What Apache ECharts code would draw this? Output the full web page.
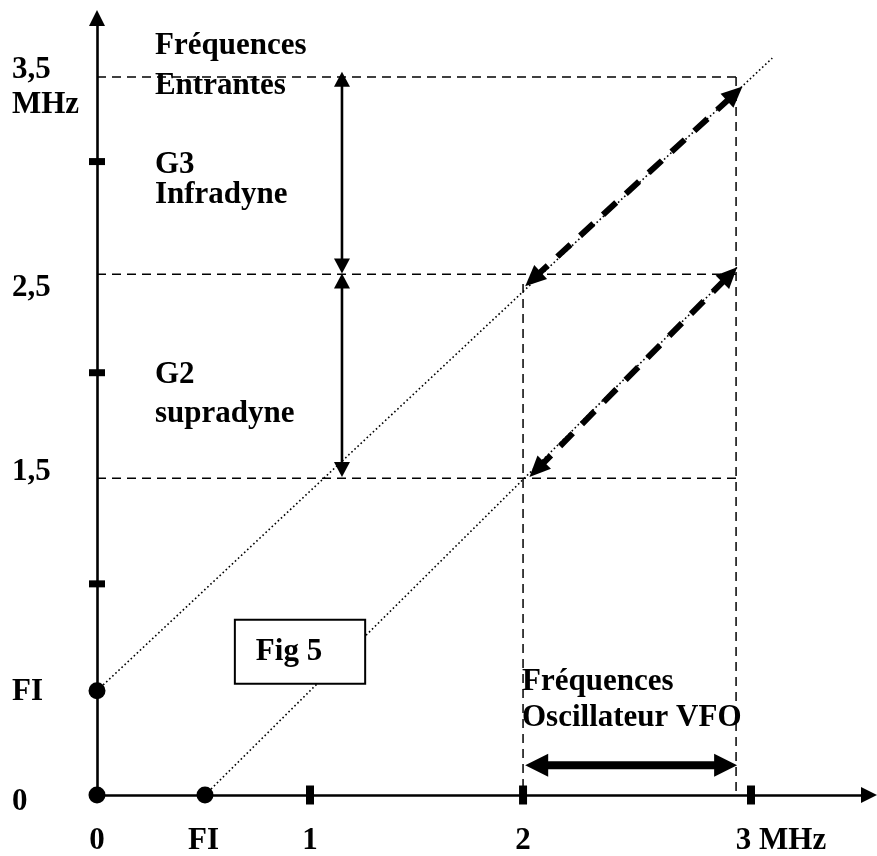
<!DOCTYPE html>
<html><head><meta charset="utf-8">
<script src="https://cdn.jsdelivr.net/npm/echarts@6/dist/echarts.min.js"></script>
<style>html,body{margin:0;padding:0;background:#fff}#c{width:877px;height:856px}</style>
</head><body><div id="c"></div>
<script>
// ---- data (axis units, MHz) ----
const xLabelValues = [0, 0.5, 1, 2, 3.07];
const xLabelTexts = ['0', 'FI', '1', '2', '3 MHz'];
const yLabelValues = [0, 0.49, 1.53, 2.40, 3.35];
const yLabelTexts = ['0', 'FI', '1,5', '2,5', '3,5\nMHz'];
const xTickMarks = [1, 2, 3.07];
const yTickMarks = [1, 2, 3];
const axisDots = [[0, 0], [0, 0.494], [0.507, 0]];
const upperDiagonal = [[0, 0.494], [3.17, 3.49]];
const lowerDiagonal = [[0.507, 0], [3.005, 2.5]];
const levelSegments = [
  [[0, 3.40], [3.0, 3.40]],
  [[0, 2.466], [3.0, 2.466]],
  [[0, 1.50], [3.0, 1.50]],
  [[2.0, 2.42], [2.0, 0]],
  [[3.0, 3.40], [3.0, 0]]
];
const bandArrows = [[1.15, 3.426, 1.15, 2.47], [1.15, 2.47, 1.15, 1.506]];
const mixArrows = [[2.01, 2.41, 3.03, 3.355], [2.03, 1.506, 3.005, 2.499]];
const vfoArrow = [[2.01, 0.141, 3.005, 0.141]];
const noteTexts = ['Fréquences\nEntrantes', 'G3\nInfradyne', 'G2\nsupradyne', 'Fréquences\nOscillateur VFO'];
const notePositions = [[0.272, 3.452], [0.272, 2.915], [0.272, 1.896], [1.995, 0.449]];
const figText = 'Fig 5';
const figPosition = [0.953, 0.678];

// ---- styles ----
const FONT = 'Liberation Serif';
const noteLineHeights = [40, 30, 39, 36];
const txt = { fontFamily: FONT, fontWeight: 'bold', fontSize: 31, color: '#000', textBorderWidth: 0, opacity: 1 };

function arrowRenderer(st) {
  return function (params, api) {
    const p1 = api.coord([api.value(0), api.value(1)]);
    const p2 = api.coord([api.value(2), api.value(3)]);
    const dx = p2[0] - p1[0], dy = p2[1] - p1[1];
    const len = Math.hypot(dx, dy);
    const ux = dx / len, uy = dy / len, nx = -uy, ny = ux;
    const a = st.head * 0.6;
    function head(tip, dir) {
      const bx = tip[0] - dir * ux * st.head, by = tip[1] - dir * uy * st.head;
      return { type: 'polygon', shape: { points: [tip, [bx + nx * st.width / 2, by + ny * st.width / 2], [bx - nx * st.width / 2, by - ny * st.width / 2]] }, style: { fill: '#000' } };
    }
    return { type: 'group', children: [
      { type: 'line', shape: { x1: p1[0] + ux * a, y1: p1[1] + uy * a, x2: p2[0] - ux * a, y2: p2[1] - uy * a },
        style: { stroke: '#000', lineWidth: st.lw, lineDash: st.dash || null, fill: null } },
      head(p2, 1), head(p1, -1)
    ] };
  };
}
function arrowSeries(data, st) {
  return { type: 'custom', data: data, encode: { x: [0, 2], y: [1, 3] }, renderItem: arrowRenderer(st), clip: false, silent: true, z: 5 };
}
function segSeries(data, lineStyle) {
  return { type: 'line', data: data, showSymbol: false, symbol: 'none', lineStyle: lineStyle, silent: true, z: 2, animation: false };
}
function markSeries(data, symbol, size) {
  return { type: 'scatter', data: data, symbol: symbol, symbolSize: size, itemStyle: { color: '#000', opacity: 1 }, z: 6, silent: true };
}

const series = [];
series.push(segSeries(upperDiagonal, { color: '#000', width: 1.6, type: [1.6, 2.6] }));
series.push(segSeries(lowerDiagonal, { color: '#000', width: 1.6, type: [1.6, 2.6] }));
levelSegments.forEach(s => series.push(segSeries(s, { color: '#000', width: 1.5, type: [9, 6] })));
series.push(arrowSeries(bandArrows, { lw: 2.6, head: 15, width: 16 }));
series.push(arrowSeries(mixArrows, { lw: 6, head: 21, width: 19, dash: [18, 13] }));
series.push(arrowSeries(vfoArrow, { lw: 8, head: 23, width: 23 }));
series.push(markSeries(yTickMarks.map(v => [0, v]), 'rect', [16, 7]));
series.push(markSeries(xTickMarks.map(v => [v, 0]), 'rect', [8, 19]));
series.push(markSeries(axisDots, 'circle', 17));
series.push({ type: 'scatter', silent: true, z: 7, symbolSize: 1, itemStyle: { color: 'transparent', opacity: 1 },
  data: notePositions.map((p, i) => ({ value: p, label: { show: true, formatter: noteTexts[i], lineHeight: noteLineHeights[i] } })),
  label: Object.assign({ show: true, position: 'inside', align: 'left', verticalAlign: 'middle' }, txt) });
series.push({ type: 'scatter', silent: true, z: 10, symbolSize: 1, itemStyle: { color: 'transparent', opacity: 1 },
  data: [{ value: figPosition, label: { show: true, formatter: figText } }],
  label: Object.assign({ show: true, position: 'inside', align: 'center', verticalAlign: 'middle', backgroundColor: '#fff', borderColor: '#000', borderWidth: 2, padding: [15, 42, 16, 20] }, txt) });

const option = {
  animation: false,
  backgroundColor: '#fff',
  grid: { left: 97, right: 8, top: 18, bottom: 56, containLabel: false },
  xAxis: {
    type: 'value', min: 0, max: 3.624,
    axisLine: { onZero: false, lineStyle: { color: '#000', width: 2.6 }, symbol: ['none', 'triangle'], symbolSize: [16, 16] },
    axisTick: { show: false }, splitLine: { show: false },
    axisLabel: Object.assign({ customValues: xLabelValues, margin: 30,
      formatter: v => { const i = xLabelValues.indexOf(v); const t = i >= 0 ? xLabelTexts[i] : ''; return i === xLabelValues.length - 1 ? '{r|' + t + '}' : t; },
      rich: { r: Object.assign({ padding: [0, 0, 0, 60] }, txt) } }, txt)
  },
  yAxis: {
    type: 'value', min: 0, max: 3.68,
    axisLine: { onZero: false, lineStyle: { color: '#000', width: 2.6 }, symbol: ['none', 'triangle'], symbolSize: [16, 16] },
    axisTick: { show: false }, splitLine: { show: false },
    axisLabel: Object.assign({ customValues: yLabelValues, margin: 85, align: 'left', lineHeight: 35,
      formatter: v => { const i = yLabelValues.indexOf(v); const t = i >= 0 ? yLabelTexts[i] : ''; return i === 0 ? '{lo|' + t + '}' : t; },
      rich: { lo: Object.assign({ padding: [13, 0, 0, 0], lineHeight: 35 }, txt) } }, txt)
  },
  series: series
};
const chart = echarts.init(document.getElementById('c'), null, { renderer: 'canvas' });
chart.setOption(option);
</script></body></html>
